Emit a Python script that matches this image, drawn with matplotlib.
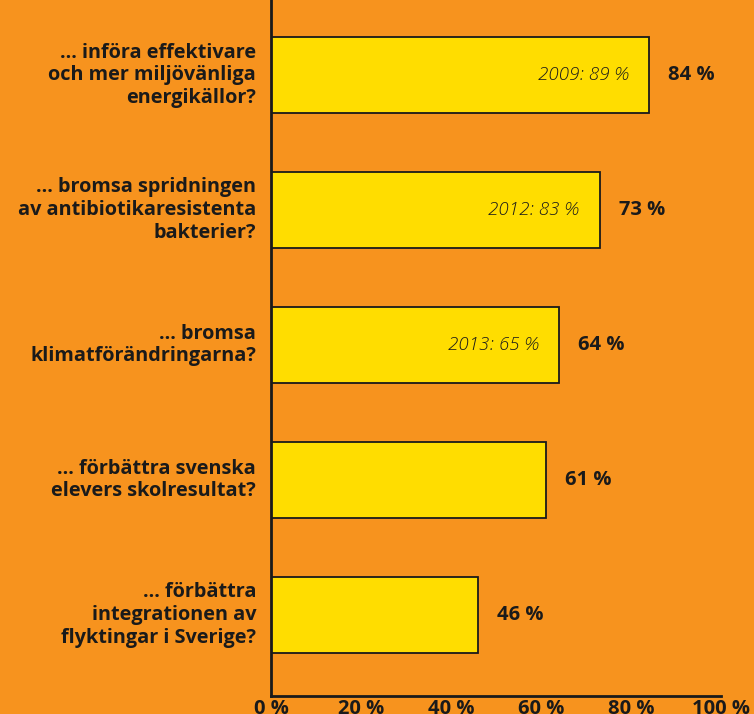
import matplotlib.pyplot as plt

plt.rcParams["font.family"] = ["Open Sans", "DejaVu Sans"]

questions = [
    "… införa effektivare\noch mer miljövänliga\nenergikällor?",
    "… bromsa spridningen\nav antibiotikaresistenta\nbakterier?",
    "… bromsa\nklimatförändringarna?",
    "… förbättra svenska\nelevers skolresultat?",
    "… förbättra\nintegrationen av\nflyktingar i Sverige?",
]
values = [84, 73, 64, 61, 46]
earlier = ["2009: 89 %", "2012: 83 %", "2013: 65 %", None, None]
ticks = [0, 20, 40, 60, 80, 100]

orange = "#F7931E"
yellow = "#FFDD00"
dark = "#1a1a1a"

fig = plt.figure(figsize=(7.54, 7.14), dpi=100, facecolor=orange)
ax = fig.add_axes([271 / 754, 18 / 714, 450 / 754, 696 / 714])
ax.set_facecolor(orange)

pos = list(range(len(values)))
ax.barh(pos, values, height=0.56, color=yellow, edgecolor=dark, linewidth=1.3, zorder=2)

for y, v, q, e in zip(pos, values, questions, earlier):
    ax.text(v + 4.3, y, f"{v} %", va="center", ha="left", fontsize=14.5,
            fontweight="bold", color=dark)
    ax.text(-3.3, y, q, va="center", ha="right", fontsize=14.3, fontweight="bold",
            color=dark, linespacing=1.17)
    if e:
        ax.text(v - 4.5, y, e, va="center", ha="right", fontsize=13.5,
                style="italic", fontweight="light", color=dark)

ax.set_xlim(0, 100)
ax.set_ylim(4.6, -0.556)
ax.set_xticks(ticks)
ax.set_xticklabels([f"{t} %" for t in ticks], fontsize=14.5, fontweight="bold", color=dark)
ax.tick_params(axis="x", length=0, pad=2)
ax.set_yticks([])
for s in ["top", "right"]:
    ax.spines[s].set_visible(False)
for s in ["left", "bottom"]:
    ax.spines[s].set_linewidth(2)
    ax.spines[s].set_color(dark)

fig.savefig("out.png", dpi=100, facecolor=orange)
